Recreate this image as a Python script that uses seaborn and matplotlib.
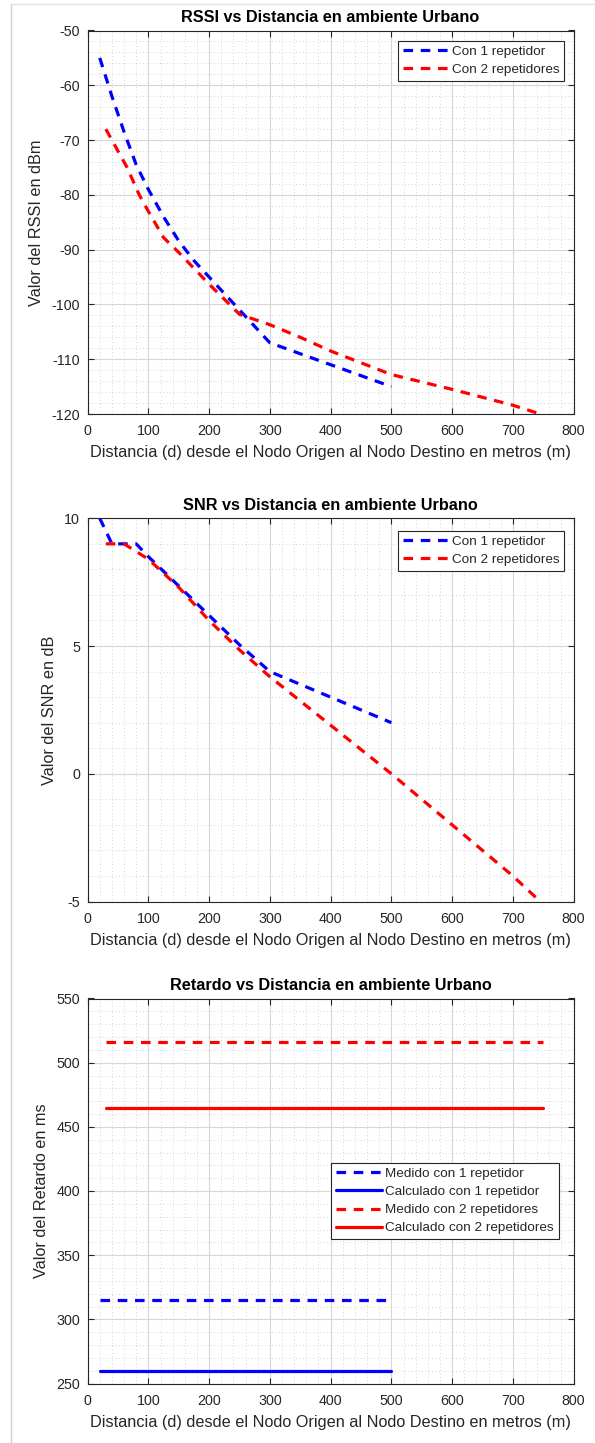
import numpy as np
import pandas as pd
import matplotlib
matplotlib.use("Agg")
import matplotlib.pyplot as plt
from matplotlib.ticker import MultipleLocator
from matplotlib.lines import Line2D
import seaborn as sns

# ---------------- data ----------------
rssi_d1 = [20, 40, 60, 80, 100, 125, 150, 175, 200, 250, 300, 350, 400, 450, 500]
rssi_1 = [-55, -62, -68.5, -74.5, -79, -84, -88.4, -92, -95, -101, -107, -109, -111, -113, -115]
rssi_d2 = [30, 50, 65, 85, 100, 125, 150, 200, 250, 300, 350, 400, 500, 600, 700, 745]
rssi_2 = [-68, -72, -75, -80, -83, -87.8, -90.5, -96.3, -101.8, -103.7, -106, -108.5, -112.8, -115.5, -118.4, -120]

snr_d1 = [20, 40, 80, 100, 150, 200, 250, 300, 400, 500]
snr_1 = [10, 9, 9, 8.5, 7.35, 6.2, 5.05, 4, 3, 2]
snr_d2 = [30, 60, 100, 150, 200, 250, 300, 400, 500, 600, 700, 745]
snr_2 = [9, 9, 8.4, 7.3, 6.0, 4.85, 3.8, 1.9, 0, -2, -4, -5]

ret_d1 = [20, 500]
ret_med1 = [315, 315]
ret_calc1 = [260, 260]
ret_d2 = [30, 750]
ret_med2 = [516, 516]
ret_calc2 = [465, 465]

xlabel = "Distancia (d) desde el Nodo Origen al Nodo Destino en metros (m)"
titles = ["RSSI vs Distancia en ambiente Urbano",
          "SNR vs Distancia en ambiente Urbano",
          "Retardo vs Distancia en ambiente Urbano"]
ylabels = ["Valor del RSSI en dBm", "Valor del SNR en dB", "Valor del Retardo en ms"]
leg_short = ["Con 1 repetidor", "Con 2 repetidores"]
leg_ret = ["Medido con 1 repetidor", "Calculado con 1 repetidor",
           "Medido con 2 repetidores", "Calculado con 2 repetidores"]

# ---------------- style ----------------
sns.set_style("ticks")
plt.rcParams['font.family'] = ['Liberation Sans', 'DejaVu Sans']
plt.rcParams['axes.unicode_minus'] = False

W, H = 595, 1443
fig = plt.figure(figsize=(W / 100, H / 100), dpi=100)
fig.patch.set_facecolor("white")

TXT = "#262626"
LW = 2.3
DASH = (0, (3.0, 2.4))

def ax_rect(top_px, bot_px, left_px=87.6, right_px=573.6):
    return [left_px / W, 1 - bot_px / H, (right_px - left_px) / W, (bot_px - top_px) / H]

axes = [fig.add_axes(ax_rect(30.5, 414)),
        fig.add_axes(ax_rect(518.3, 901.5)),
        fig.add_axes(ax_rect(998.5, 1383.5))]

def style_axis(ax, ylim, ymaj, ymin, title, ylabel):
    ax.set_xlim(0, 800)
    ax.set_ylim(*ylim)
    ax.xaxis.set_major_locator(MultipleLocator(100))
    ax.xaxis.set_minor_locator(MultipleLocator(20))
    ax.yaxis.set_major_locator(MultipleLocator(ymaj))
    ax.yaxis.set_minor_locator(MultipleLocator(ymin))
    ax.set_axisbelow(True)
    ax.grid(which='major', color='#d6d6d6', lw=0.8, ls='-')
    ax.grid(which='minor', color='#d4d4d4', lw=0.7, ls=(0, (1, 2.5)))
    ax.tick_params(which='major', direction='in', top=True, right=True, length=4,
                   width=0.8, color=TXT, labelcolor=TXT, labelsize=10.3, pad=7.5)
    ax.tick_params(axis='y', which='major', pad=5.5)
    ax.tick_params(which='minor', length=0)
    for s in ax.spines.values():
        s.set_color(TXT)
        s.set_linewidth(0.8)
        s.set_visible(True)
    ax.set_title(title, fontsize=11.7, fontweight='bold', color='black', pad=6)
    ax.set_xlabel(xlabel, fontsize=11.7, color=TXT, labelpad=5)
    ax.set_ylabel(ylabel, fontsize=11.7, color=TXT, labelpad=5)

# ---- RSSI ----
ax = axes[0]
df1 = pd.DataFrame({"d": rssi_d1, "v": rssi_1})
df2 = pd.DataFrame({"d": rssi_d2, "v": rssi_2})
sns.lineplot(data=df1, x="d", y="v", ax=ax, color=(0, 0, 1), lw=LW, linestyle=DASH,
             estimator=None, label=leg_short[0])
sns.lineplot(data=df2, x="d", y="v", ax=ax, color=(1, 0, 0), lw=LW, linestyle=DASH,
             estimator=None, label=leg_short[1])
style_axis(ax, (-120, -50), 10, 2, titles[0], ylabels[0])

# ---- SNR ----
ax = axes[1]
df1 = pd.DataFrame({"d": snr_d1, "v": snr_1})
df2 = pd.DataFrame({"d": snr_d2, "v": snr_2})
sns.lineplot(data=df1, x="d", y="v", ax=ax, color=(0, 0, 1), lw=LW, linestyle=DASH,
             estimator=None, label=leg_short[0])
sns.lineplot(data=df2, x="d", y="v", ax=ax, color=(1, 0, 0), lw=LW, linestyle=DASH,
             estimator=None, label=leg_short[1])
style_axis(ax, (-5, 10), 5, 1, titles[1], ylabels[1])

# ---- Retardo ----
ax = axes[2]
series = [
    (ret_d1, ret_med1, (0, 0, 1), DASH, leg_ret[0]),
    (ret_d1, ret_calc1, (0, 0, 1), '-', leg_ret[1]),
    (ret_d2, ret_med2, (1, 0, 0), DASH, leg_ret[2]),
    (ret_d2, ret_calc2, (1, 0, 0), '-', leg_ret[3]),
]
for xs, ys, c, ls, lab in series:
    d = pd.DataFrame({"d": xs, "v": ys})
    sns.lineplot(data=d, x="d", y="v", ax=ax, color=c, lw=LW, linestyle=ls,
                 estimator=None, label=lab)
style_axis(ax, (250, 550), 50, 10, titles[2], ylabels[2])

leg_kw = dict(fontsize=9.7, frameon=True, fancybox=False, edgecolor=TXT,
              framealpha=1, handlelength=3.4, handletextpad=0.25, borderpad=0.35,
              labelspacing=0.42, borderaxespad=0)
for ax, anchor in zip(axes[:2], [(0.981, 0.973), (0.981, 0.968)]):
    lg = ax.legend(loc='upper right', bbox_to_anchor=anchor, **leg_kw)
    lg.get_frame().set_linewidth(0.8)
lg = axes[2].legend(loc='upper right', bbox_to_anchor=(0.969, 0.573), **leg_kw)
lg.get_frame().set_linewidth(0.8)

# screenshot frame lines
fig.add_artist(Line2D([10.5 / W, 10.5 / W], [0, 1 - 4 / H], transform=fig.transFigure,
                      color='#cfcfcf', lw=1))
fig.add_artist(Line2D([10.5 / W, 1], [1 - 4 / H, 1 - 4 / H], transform=fig.transFigure,
                      color='#e4e4e4', lw=1))

fig.savefig("out.png", dpi=100, facecolor="white")
